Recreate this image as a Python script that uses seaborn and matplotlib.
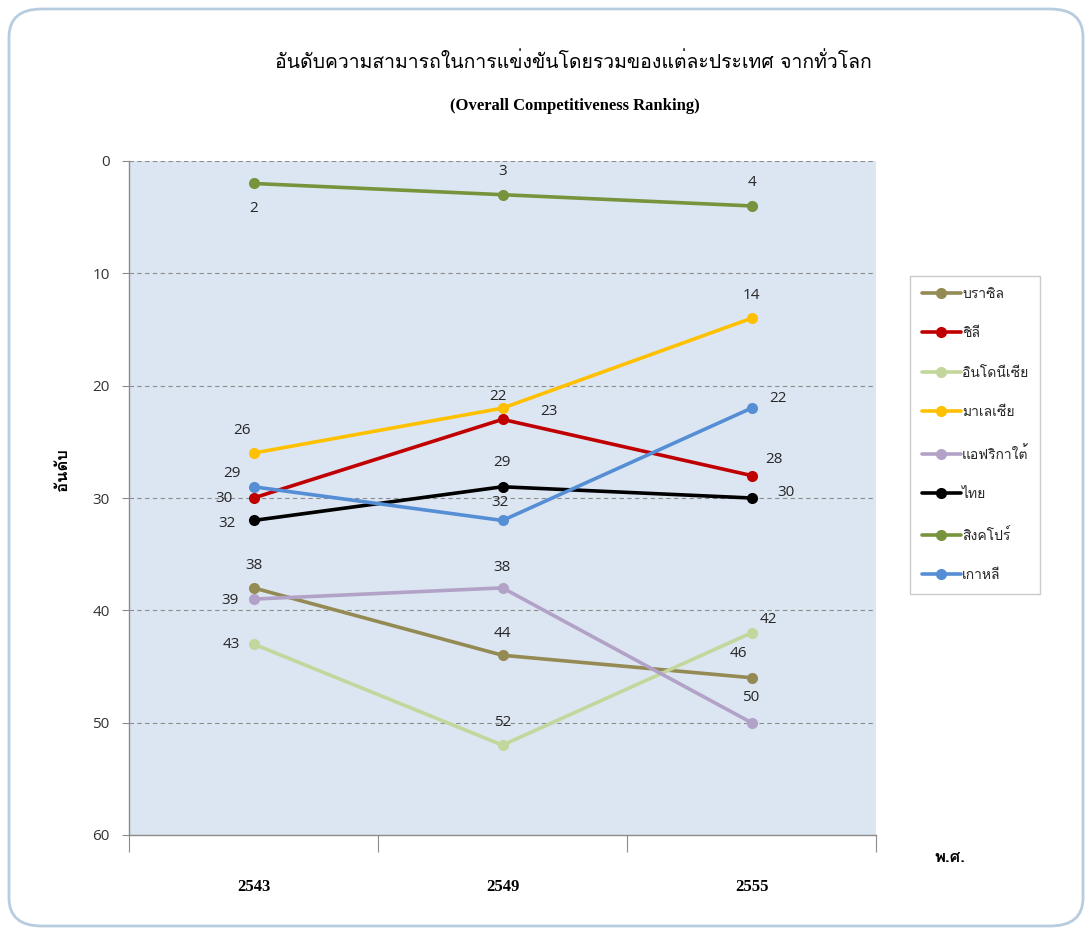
import numpy as np
import pandas as pd
import matplotlib
matplotlib.use("Agg")
import matplotlib.pyplot as plt
from matplotlib import font_manager
from matplotlib.ft2font import FT2Font
from matplotlib.patches import FancyBboxPatch
import seaborn as sns

# ---- data -------------------------------------------------------------
years = ["2543", "2549", "2555"]
countries = ["บราซิล", "ชิลี", "อินโดนีเซีย", "มาเลเซีย", "แอฟริกาใต้", "ไทย", "สิงคโปร์", "เกาหลี"]
brazil = [38, 44, 46]
chile = [30, 23, 28]
indonesia = [43, 52, 42]
malaysia = [26, 22, 14]
south_africa = [39, 38, 50]
thailand = [32, 29, 30]
singapore = [2, 3, 4]
korea = [29, 32, 22]
series = [brazil, chile, indonesia, malaysia, south_africa, thailand, singapore, korea]

title_th = "อันดับความสามารถในการแข่งขันโดยรวมของแต่ละประเทศ จากทั่วโลก"
title_en = "(Overall Competitiveness Ranking)"
ylabel = "อันดับ"
xlabel = "พ.ศ."

# ---- styling ----------------------------------------------------------
colors = ["#948A54", "#C00000", "#C3D69B", "#FFC000", "#B3A2C7", "#000000", "#77933C", "#558ED5"]
# value-label offsets in pixels (dx right, dy down) for each point
label_offsets = [
    [(0, -22), (0, -22), (-13, -24)],
    [(-30, 0), (46, -8), (22, -16)],
    [(-22, 0), (0, -23), (17, -13)],
    [(-11, -23), (-4, -12), (0, -23)],
    [(-23, 1), (0, -20), (-1, -25)],
    [(-26, 3), (0, -24), (35, -5)],
    [(0, 25), (0, -23), (0, -23)],
    [(-22, -13), (-2, -18), (27, -10)],
]


def thai_font():
    """Return the first installed family that covers Thai script."""
    for f in font_manager.fontManager.ttflist:
        try:
            cmap = FT2Font(f.fname).get_charmap()
        except Exception:
            continue
        if 0x0E01 in cmap and 0x0E31 in cmap:
            return f.name
    return "DejaVu Sans"


sns.set_theme(style="white")
TH = thai_font()
plt.rcParams["font.family"] = [TH, "DejaVu Sans"]

df = pd.DataFrame(
    [(c, i, v) for c, s in zip(countries, series) for i, v in enumerate(s)],
    columns=["country", "pos", "rank"],
)

fig = plt.figure(figsize=(10.92, 9.35), dpi=100)
fig.patch.set_facecolor("white")

# rounded outer frame
frame = FancyBboxPatch((9 / 1092, 9 / 935), 1074 / 1092, 917 / 935,
                       boxstyle="round,pad=0,rounding_size=0.03",
                       transform=fig.transFigure, facecolor="none",
                       edgecolor="#B8CCE0", linewidth=2.0, zorder=-1)
fig.patches.append(frame)

ax = fig.add_axes([129 / 1092, 1 - 835 / 935, 747 / 1092, 674 / 935])
ax.set_facecolor("#DCE6F2")

sns.lineplot(data=df, x="pos", y="rank", hue="country", hue_order=countries,
             palette=colors, marker="o", markersize=8, markeredgewidth=0,
             linewidth=2.6, ax=ax, legend=True, zorder=3)

ax.set_xlim(-0.5, 2.5)
ax.set_ylim(60, 0)
ax.set_yticks(np.arange(0, 61, 10))
ax.yaxis.grid(True, linestyle=(0, (4, 3)), color="#8C8C8C", linewidth=0.8)
ax.set_axisbelow(True)

for name in ["top", "right"]:
    ax.spines[name].set_visible(False)
for name in ["left", "bottom"]:
    ax.spines[name].set_color("#8C8C8C")
    ax.spines[name].set_linewidth(1.0)

ax.set_xticks(range(len(years)))
ax.set_xticklabels(years, fontfamily="Liberation Serif", fontweight="bold",
                   fontsize=12, color="#000000")
ax.tick_params(axis="x", which="major", length=0, pad=32)
ax.set_xticks([-0.5, 0.5, 1.5, 2.5], minor=True)
ax.tick_params(axis="x", which="minor", length=12, width=0.8, color="#8C8C8C",
               direction="out", bottom=True)
ax.tick_params(axis="y", length=5, width=0.8, color="#8C8C8C", direction="out",
               left=True, pad=9, labelsize=11, labelcolor="#333333")
for t in ax.get_yticklabels():
    t.set_fontfamily("Open Sans")
ax.set_xlabel("")
ax.set_ylabel("")

# value labels
for s, offs in zip(series, label_offsets):
    for i, (v, (dx, dy)) in enumerate(zip(s, offs)):
        ax.annotate(str(v), (i, v), xytext=(dx, -dy), textcoords="offset pixels",
                    ha="center", va="center", fontsize=11, color="#262626",
                    fontfamily="Open Sans", zorder=5)

# legend
handles, labels = ax.get_legend_handles_labels()
ax.legend(handles, labels, loc="upper left",
          bbox_to_anchor=(910 / 1092, 1 - 276 / 935), bbox_transform=fig.transFigure,
          frameon=True, fancybox=False, edgecolor="#BFBFBF", facecolor="white",
          fontsize=10, labelspacing=1.92, handlelength=2.8, handletextpad=0.1,
          borderpad=0.85, borderaxespad=0)

# titles and axis captions
fig.text(573 / 1092, 1 - 62 / 935, title_th, ha="center", va="center",
         fontsize=14, color="#000000")
fig.text(575 / 1092, 1 - 106 / 935, title_en, ha="center", va="center",
         fontsize=12, fontweight="bold", fontfamily="Liberation Serif", color="#000000")
fig.text(62 / 1092, 1 - 470 / 935, ylabel, ha="center", va="center", rotation=90,
         fontsize=12, fontweight="bold", color="#000000")
fig.text(950 / 1092, 1 - 858 / 935, xlabel, ha="center", va="center",
         fontsize=12, fontweight="bold", color="#000000")

fig.savefig("out.png", dpi=100, facecolor="white")
